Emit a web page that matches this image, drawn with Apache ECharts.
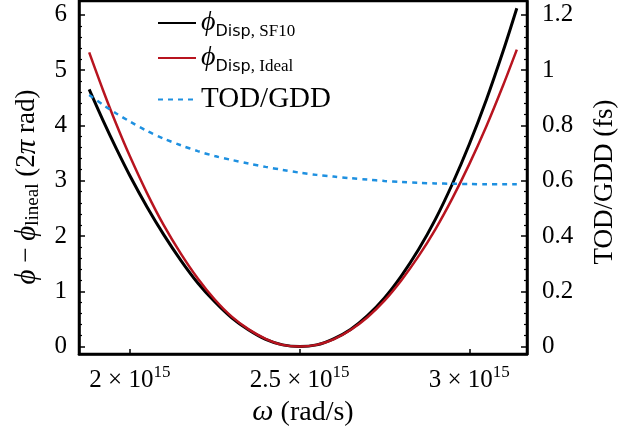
<!DOCTYPE html>
<html>
<head>
<meta charset="utf-8">
<script src="https://cdn.jsdelivr.net/npm/echarts@6/dist/echarts.min.js"></script>
<style>
  html, body { margin: 0; padding: 0; background: #fff; }
  #chart { width: 618px; height: 431px; }
</style>
</head>
<body>
<div id="chart"></div>
<script>
// frequency, in units of 10^15 rad/s
var omega = [1.88, 1.92, 1.96, 2.00, 2.05, 2.10, 2.15, 2.20, 2.25, 2.30, 2.35, 2.40, 2.45, 2.50,
             2.55, 2.60, 2.65, 2.70, 2.75, 2.80, 2.85, 2.90, 2.95, 3.00, 3.05, 3.10, 3.14];
// phase minus linear part, 2pi rad
var phiSF10 = [4.65, 4.10, 3.58, 3.09, 2.53, 2.02, 1.56, 1.15, 0.81, 0.52, 0.30, 0.13, 0.03, 0,
               0.03, 0.14, 0.31, 0.56, 0.88, 1.28, 1.75, 2.30, 2.94, 3.66, 4.46, 5.35, 6.12];
var phiIdeal = [5.32, 4.65, 4.02, 3.44, 2.78, 2.19, 1.68, 1.23, 0.85, 0.54, 0.31, 0.14, 0.03, 0,
                0.03, 0.13, 0.30, 0.53, 0.83, 1.20, 1.63, 2.12, 2.68, 3.30, 3.98, 4.73, 5.37];
// TOD/GDD, fs
var todGdd = [0.910, 0.875, 0.843, 0.814, 0.780, 0.752, 0.728, 0.707, 0.689, 0.675, 0.662, 0.650, 0.639, 0.629,
              0.621, 0.615, 0.609, 0.604, 0.599, 0.595, 0.592, 0.590, 0.589, 0.588, 0.587, 0.587, 0.587];

var xTicks = [2, 2.5, 3];
var leftTicks = [0, 1, 2, 3, 4, 5, 6];
var rightTicks = [0, 0.2, 0.4, 0.6, 0.8, 1, 1.2];

function pairs(ys) {
    var out = [];
    for (var i = 0; i < omega.length; i++) out.push([omega[i], ys[i]]);
    return out;
}
function minors(ticks, n) {
    var out = [];
    for (var i = 0; i < ticks.length - 1; i++) {
        var step = (ticks[i + 1] - ticks[i]) / n;
        for (var k = 1; k < n; k++) out.push(+(ticks[i] + k * step).toFixed(4));
    }
    return out;
}

var serif = 'Liberation Serif';
var ink = '#000';
var PHI = '\u03D5';
var legendRich = {
    phi: { fontFamily: serif, fontStyle: 'italic', fontSize: 28, color: ink },
    dsub: { fontFamily: 'DejaVu Sans', fontSize: 16, color: ink, padding: [17, 0, 0, 0] },
    ssub: { fontFamily: serif, fontSize: 17, color: ink, padding: [17, 0, 0, 0] },
    big: { fontFamily: serif, fontSize: 29, color: ink }
};
var legendLabels = {
    'SF10': '{phi|' + PHI + '}{dsub|Disp}{ssub|, SF10}',
    'Ideal': '{phi|' + PHI + '}{dsub|Disp}{ssub|, Ideal}',
    'TOD/GDD': '{big|TOD/GDD}'
};
function makeLegend(name, top) {
    return {
        data: [name],
        left: 152,
        top: top,
        itemWidth: 38,
        itemHeight: 14,
        itemGap: 0,
        itemStyle: { opacity: 0 },
        textStyle: { rich: legendRich },
        formatter: function (n) { return legendLabels[n]; }
    };
}

var tickFont = { fontFamily: serif, fontSize: 25, color: ink };

var myChart = echarts.init(document.getElementById('chart'));
var option = {
    animation: false,
    backgroundColor: '#fff',
    grid: {
        left: 79, right: 91, top: 1, bottom: 77,
        outerBoundsMode: 'none',
        containLabel: false,
        show: true, borderColor: ink, borderWidth: 2.5, backgroundColor: 'transparent'
    },
    legend: [makeLegend('SF10', 4), makeLegend('Ideal', 39), makeLegend('TOD/GDD', 80)],
    xAxis: {
        type: 'value',
        min: 1.85,
        max: 3.17,
        name: '{i|\u03C9} (rad/s)',
        nameLocation: 'middle',
        nameGap: 43,
        nameTextStyle: {
            fontFamily: serif, fontSize: 28, color: ink,
            rich: { i: { fontFamily: serif, fontStyle: 'italic', fontSize: 30, color: ink } }
        },
        axisLine: { onZero: false, lineStyle: { color: ink, width: 2.5 } },
        axisTick: { inside: true, length: 5, customValues: xTicks, lineStyle: { color: ink, width: 1.5 } },
        axisLabel: {
            customValues: xTicks,
            margin: 10,
            formatter: function (v) { return '{n|' + v + ' \u00D7 10}{sup|15}'; },
            rich: {
                n: tickFont,
                sup: { fontFamily: serif, fontSize: 17, color: ink, padding: [0, 0, 15, 0] }
            }
        },
        splitLine: { show: false }
    },
    yAxis: [{
        type: 'value',
        position: 'left',
        min: -0.135,
        max: 6.25,
        axisLine: { show: true, onZero: false, lineStyle: { color: ink, width: 2.5 } },
        axisTick: { inside: true, length: 6, customValues: leftTicks, lineStyle: { color: ink, width: 1.5 } },
        axisLabel: { customValues: leftTicks, margin: 12, fontFamily: serif, fontSize: 25, color: ink },
        splitLine: { show: false }
    }, {
        type: 'value',
        position: 'right',
        min: -0.027,
        max: 1.25,
        axisLine: { show: true, onZero: false, lineStyle: { color: ink, width: 2.5 } },
        axisTick: { inside: true, length: 6, customValues: rightTicks, lineStyle: { color: ink, width: 1.5 } },
        axisLabel: {
            customValues: rightTicks, margin: 15, fontFamily: serif, fontSize: 25, color: ink,
            formatter: function (v) { return String(+v.toFixed(1)); }
        },
        splitLine: { show: false }
    }, {
        // minor ticks, left
        type: 'value',
        position: 'left',
        min: -0.135,
        max: 6.25,
        axisLine: { show: false },
        axisTick: { inside: true, length: 3, customValues: minors(leftTicks, 5), lineStyle: { color: ink, width: 1.2 } },
        axisLabel: { show: false },
        splitLine: { show: false }
    }, {
        // minor ticks, right
        type: 'value',
        position: 'right',
        min: -0.027,
        max: 1.25,
        axisLine: { show: false },
        axisTick: { inside: true, length: 3, customValues: minors(rightTicks, 5), lineStyle: { color: ink, width: 1.2 } },
        axisLabel: { show: false },
        splitLine: { show: false }
    }],
    series: [{
        name: 'SF10',
        type: 'line',
        yAxisIndex: 0,
        data: pairs(phiSF10),
        smooth: 0.3,
        symbol: 'none',
        lineStyle: { color: '#000', width: 3 },
        itemStyle: { color: '#000' }
    }, {
        name: 'Ideal',
        type: 'line',
        yAxisIndex: 0,
        data: pairs(phiIdeal),
        smooth: 0.3,
        symbol: 'none',
        lineStyle: { color: '#b8141f', width: 2.5 },
        itemStyle: { color: '#b8141f' }
    }, {
        name: 'TOD/GDD',
        type: 'line',
        yAxisIndex: 1,
        data: pairs(todGdd),
        smooth: 0.3,
        symbol: 'none',
        lineStyle: { color: '#1e90e0', width: 2.5, type: [5, 5] },
        itemStyle: { color: '#1e90e0' }
    }],
    graphic: [{
        type: 'text',
        x: 27,
        y: 187,
        rotation: Math.PI / 2,
        style: {
            text: '{i|' + PHI + '} \u2212 {i|' + PHI + '}{sub|lineal} (2{i|\u03C0} rad)',
            align: 'center',
            verticalAlign: 'middle',
            fontFamily: serif, fontSize: 27, fill: ink,
            rich: {
                i: { fontFamily: serif, fontStyle: 'italic', fontSize: 29, fill: ink },
                sub: { fontFamily: serif, fontSize: 19, fill: ink, padding: [13, 0, 0, 0] }
            }
        }
    }, {
        type: 'text',
        x: 605,
        y: 182,
        rotation: Math.PI / 2,
        style: {
            text: 'TOD/GDD (fs)',
            align: 'center',
            verticalAlign: 'middle',
            fontFamily: serif, fontSize: 27, fill: ink
        }
    }]
};
myChart.setOption(option);
</script>
</body>
</html>
